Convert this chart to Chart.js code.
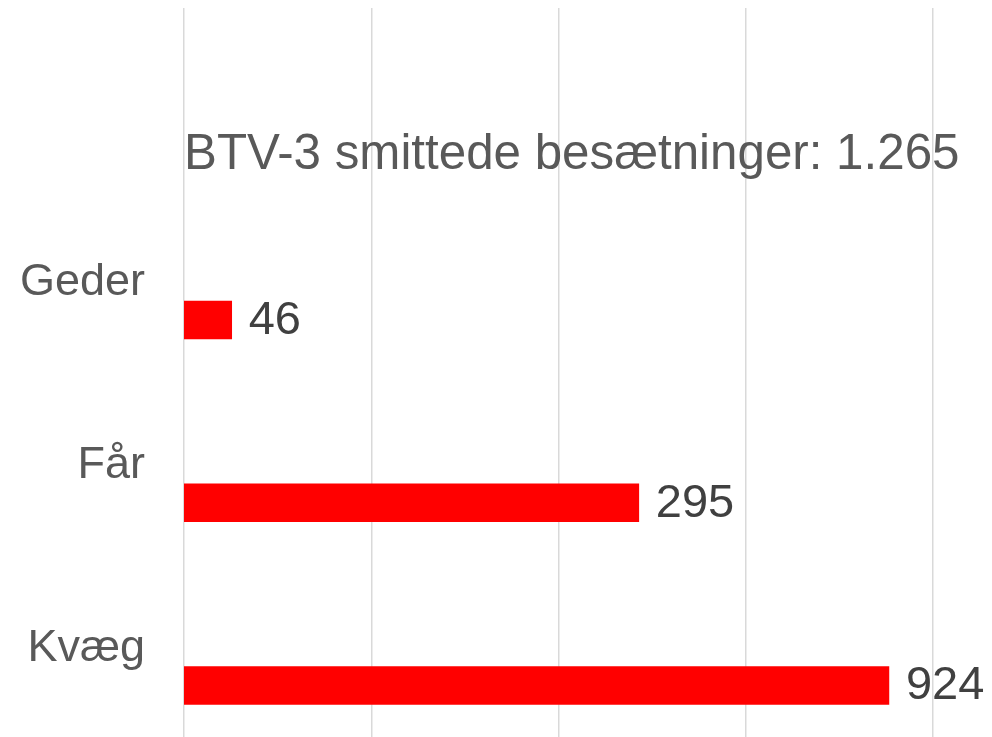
<!DOCTYPE html>
<html lang="da">
<head>
    <meta charset="UTF-8">
    <title>BTV-3 smittede besætninger</title>
    <style>
        html, body {
            margin: 0;
            padding: 0;
            background-color: #ffffff;
        }

        .chart-box {
            width: 992px;
            height: 737px;
        }
    </style>
</head>
<body>
    <div class="chart-box">
        <canvas id="btvChart"></canvas>
    </div>

    <script src="https://cdn.jsdelivr.net/npm/chart.js"></script>
    <script>
        const categories = ['Geder', 'Får', 'Kvæg'];
        const herds = [46, 295, 924];
        const titleText = 'BTV-3 smittede besætninger: ';

        const fontFamily = '"Liberation Sans", Arial, sans-serif';

        // danish thousands separator
        function formatDa(n) {
            return String(n).replace(/\B(?=(\d{3})+(?!\d))/g, '.');
        }

        const total = herds.reduce((a, b) => a + b, 0);

        const labelPlugin = {
            id: 'barLabels',
            afterDatasetsDraw(chart) {
                const ctx = chart.ctx;
                const meta = chart.getDatasetMeta(0);
                const area = chart.chartArea;
                ctx.save();
                ctx.textBaseline = 'middle';
                meta.data.forEach((bar, i) => {
                    // value to the right of the bar
                    ctx.font = '47px ' + fontFamily;
                    ctx.fillStyle = '#404040';
                    ctx.textAlign = 'left';
                    ctx.fillText(String(herds[i]), bar.x + 17, bar.y + 1);

                    // category name sits above the bar, left of the axis
                    ctx.font = '45px ' + fontFamily;
                    ctx.fillStyle = '#595959';
                    ctx.textAlign = 'right';
                    ctx.fillText(categories[i], area.left - 39, bar.y - 37);
                });

                // title sits inside the plot, above the first bar
                const yScale = chart.scales.y;
                ctx.font = '49.3px ' + fontFamily;
                ctx.fillStyle = '#595959';
                ctx.textAlign = 'left';
                ctx.fillText(titleText + formatDa(total), area.left, yScale.getPixelForValue(0.1));
                ctx.restore();
            }
        };

        const ctx = document.getElementById('btvChart').getContext('2d');
        const btvChart = new Chart(ctx, {
            type: 'bar',
            data: {
                datasets: [{
                    data: herds.map((v, i) => ({ x: v, y: i + 1 })),
                    backgroundColor: '#ff0000',
                    borderWidth: 0,
                    barThickness: 38
                }]
            },
            options: {
                indexAxis: 'y',
                responsive: true,
                maintainAspectRatio: false,
                animation: false,
                layout: {
                    padding: { top: 8, right: 59, bottom: 0, left: 0 }
                },
                plugins: {
                    legend: { display: false },
                    tooltip: { enabled: false }
                },
                scales: {
                    x: {
                        type: 'logarithmic',
                        bounds: 'data',
                        min: 37,
                        max: 1130,
                        afterBuildTicks(scale) {
                            const lo = Math.log10(37), hi = Math.log10(1130);
                            scale.ticks = [0, 1, 2, 3, 4].map(k => ({ value: Math.pow(10, lo + (hi - lo) * k / 4) }));
                        },
                        ticks: { display: false },
                        border: { display: false },
                        grid: {
                            color: '#d9d9d9',
                            lineWidth: 1.5,
                            drawTicks: false
                        }
                    },
                    y: {
                        type: 'linear',
                        reverse: true,
                        offset: false,
                        min: -0.707,
                        max: 3.282,
                        afterFit(scale) {
                            scale.width = 184;
                        },
                        ticks: { display: false },
                        border: { display: false },
                        grid: { display: false, drawTicks: false }
                    }
                }
            },
            plugins: [labelPlugin]
        });
    </script>
</body>
</html>
